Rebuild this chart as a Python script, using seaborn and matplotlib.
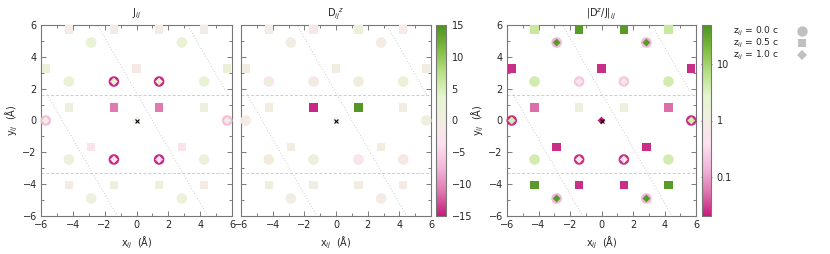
import numpy as np
import pandas as pd
import matplotlib
matplotlib.use("Agg")
import matplotlib.pyplot as plt
from matplotlib.colors import LinearSegmentedColormap, Normalize, LogNorm
from matplotlib.lines import Line2D
from matplotlib.ticker import MultipleLocator, FixedLocator
import seaborn as sns

# neighbour positions (Å)
circ_x = [-2.85, 2.85, -4.25, -1.42, 1.42, 4.25, -5.7, 5.7, -4.25, -1.42, 1.42, 4.25, -2.85, 2.85]
circ_y = [4.9, 4.9, 2.45, 2.45, 2.45, 2.45, 0.0, 0.0, -2.45, -2.45, -2.45, -2.45, -4.9, -4.9]
diam_x = circ_x + [0.0]
diam_y = circ_y + [0.0]
sq_x = [-4.25, -1.42, 1.42, 4.25, -5.67, 0.0, 5.67, -4.25, -1.42, 1.42, 4.25, -2.85, 2.85, -4.25, -1.42, 1.42, 4.25]
sq_y = [5.72] * 4 + [3.27] * 3 + [0.82] * 4 + [-1.65] * 2 + [-4.06] * 4

# J_ij
J_circ = [2.5, 2.5, 2.5, -14.5, -14.5, 2.5, -7, -7, 1.5, -14.5, -14.5, 1.5, 1.5, 1.5]
J_diam = [2.5, 2.5, 2.5, 3, 3, 2.5, 0.3, 0.3, 1.5, -2.5, -2.5, 1.5, 1.5, 1.5, 0.0]
J_sq = [-0.7, -0.5, -0.5, -0.7, 2, -1.5, 2, 1.5, -11, -11, 1.5, -3, -3, -0.5, 1.5, 1.5, -0.5]

# D_ij^z
D_circ = [0, -0.7, -3.5, -3, 3, 3.5, -1, 0.5, 3.5, 2, -3, -3.5, 0, -0.7]
D_diam = [0, -0.7, 2, 1.5, -1.5, 0.5, -1, 0.5, -2, 0.3, -1.5, 1.0, 0, -0.7, 0.0]
D_sq = [0, -1.5, 2, -1, 0.2, 0.2, 0.2, 0.2, -14.5, 14.5, 0.2, 0.2, 0.2, 1.5, 0.2, 0.2, -1]

# |D^z/J|_ij
R_circ = [0.15, 0.15, 4, 0.2, 0.2, 4, 0.025, 0.025, 4, 0.025, 0.025, 4, 0.15, 0.15]
R_diam = [40, 40, 4, 0.6, 0.6, 4, 4, 4, 4, 0.8, 0.8, 4, 40, 40, 0.02]
R_sq = [5, 40, 40, 5, 0.025, 0.025, 0.025, 0.05, 1.5, 1.5, 0.05, 0.025, 0.025, 40, 0.025, 0.025, 40]

# unit cell guide lines
cell_h = [1.63, -3.27]
cell_slant_x0 = [-4.67, 1.0, 6.67]
cell_slant_yrange = [(-7, 1.63), (-7, 7), (1.63, 7)]

legend_labels = ["z$_{ij}$ = 0.0 c", "z$_{ij}$ = 0.5 c", "z$_{ij}$ = 1.0 c"]
legend_markers = ["o", "s", "D"]

sns.set_style("white")
plt.rcParams["font.family"] = ["DejaVu Sans"]
plt.rcParams["font.size"] = 7
plt.rcParams["axes.edgecolor"] = "#777777"
plt.rcParams["axes.linewidth"] = 0.8

cmap = LinearSegmentedColormap.from_list(
    "piyg_b", ["#c51b7d", "#de77ae", "#f1b6da", "#fde0ef", "#f2ede2",
               "#e6f5d0", "#b8e186", "#7fbc41", "#4d9221"])
lin_norm = Normalize(-15, 15)
log_norm = LogNorm(0.02, 50)

W, H = 830, 254
fig = plt.figure(figsize=(W / 100, H / 100), dpi=100)


def rect(x0, x1, y0=25, y1=216):
    return [x0 / W, 1 - y1 / H, (x1 - x0) / W, (y1 - y0) / H]


def draw_panel(ax, vc, vs, vd, norm, title, ylabels=True):
    layers = [(circ_x, circ_y, vc, "o", 58), (sq_x, sq_y, vs, "s", 36), (diam_x, diam_y, vd, "D", 16)]
    for xs, ys, vals, mk, size in layers:
        df = pd.DataFrame({"x": xs, "y": ys, "v": vals})
        sns.scatterplot(data=df, x="x", y="y", hue="v", palette=cmap, hue_norm=norm,
                        marker=mk, s=size, linewidth=0, legend=False, ax=ax, clip_on=False, zorder=3)
    ax.scatter([0], [0], marker="x", s=8, color="black", linewidths=0.8, zorder=4)
    for yh in cell_h:
        ax.axhline(yh, color="#cccccc", lw=0.7, ls=(0, (3, 2)), zorder=1)
    for x0, (ya, yb) in zip(cell_slant_x0, cell_slant_yrange):
        yy = np.array([ya, yb])
        ax.plot(x0 - yy / np.sqrt(3), yy, color="#cccccc", lw=0.7, ls=(0, (1, 2)), zorder=1)
    ax.set_xlim(-6, 6)
    ax.set_ylim(-6, 6)
    ax.xaxis.set_major_locator(MultipleLocator(2))
    ax.yaxis.set_major_locator(MultipleLocator(2))
    ax.xaxis.set_minor_locator(MultipleLocator(1))
    ax.yaxis.set_minor_locator(MultipleLocator(1))
    ax.tick_params(which="both", direction="in", top=True, right=True, bottom=True, left=True,
                   color="#666666", labelsize=7, pad=3)
    ax.tick_params(which="major", length=3.5, width=0.6)
    ax.tick_params(which="minor", length=2, width=0.6)
    ax.set_title(title, fontsize=7, pad=6)
    ax.set_xlabel("x$_{ij}$  (Å)", fontsize=7, labelpad=3)
    if ylabels:
        ax.set_ylabel("y$_{ij}$  (Å)", fontsize=7, labelpad=2)
    else:
        ax.set_ylabel("")
        ax.set_yticklabels([])


def draw_cbar(cax, norm, log=False):
    sm = plt.cm.ScalarMappable(norm=norm, cmap=cmap)
    cb = fig.colorbar(sm, cax=cax)
    cb.outline.set_edgecolor("#777777")
    cb.outline.set_linewidth(0.8)
    if log:
        cb.set_ticks([0.1, 1, 10])
        cb.set_ticklabels(["0.1", "1", "10"])
        cax.yaxis.set_minor_locator(FixedLocator(
            [m * 10.0 ** e for e in range(-2, 2) for m in range(2, 10) if 0.02 <= m * 10.0 ** e <= 50]))
    else:
        cb.set_ticks(np.arange(-15, 16, 5))
        cax.yaxis.set_minor_locator(MultipleLocator(2.5))
    cax.tick_params(which="both", direction="in", left=True, right=True, color="#555555",
                    labelsize=7, pad=4)
    cax.tick_params(which="major", length=7, width=0.6)
    cax.tick_params(which="minor", length=2, width=0.6)


ax1 = fig.add_axes(rect(41, 232))
ax2 = fig.add_axes(rect(241, 431))
ax3 = fig.add_axes(rect(507, 696))
cax1 = fig.add_axes(rect(436, 446))
cax2 = fig.add_axes(rect(702, 711))

draw_panel(ax1, J_circ, J_sq, J_diam, lin_norm, "J$_{ij}$")
draw_panel(ax2, D_circ, D_sq, D_diam, lin_norm, "D$_{ij}$$^{z}$", ylabels=False)
draw_panel(ax3, R_circ, R_sq, R_diam, log_norm, "|D$^{z}$/J|$_{ij}$")
draw_cbar(cax1, lin_norm)
draw_cbar(cax2, log_norm, log=True)

# legend drawn by hand, text right-aligned with symbol on the right
for i, (lab, mk) in enumerate(zip(legend_labels, legend_markers)):
    yy = 1 - (31 + 12 * i) / H
    fig.text(779 / W, yy, lab, ha="right", va="center", fontsize=6.6, color="#222222")
    ms = {"o": 7.5, "s": 6.2, "D": 4.6}[mk]
    fig.add_artist(Line2D([802 / W], [yy], marker=mk, ls="none", color="#c0c0c0", ms=ms,
                          markeredgewidth=0, transform=fig.transFigure))

fig.savefig("out.png", dpi=100)
